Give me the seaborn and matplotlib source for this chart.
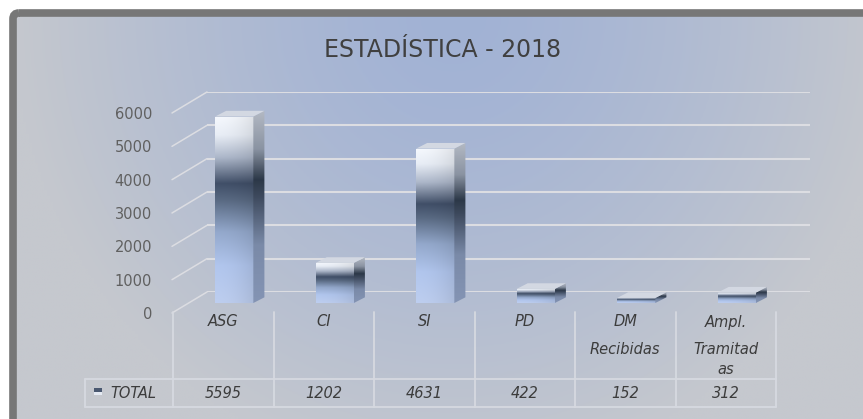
import numpy as np
import pandas as pd
import matplotlib
matplotlib.use('Agg')
import matplotlib.pyplot as plt
import seaborn as sns
from matplotlib.patches import Polygon, FancyBboxPatch, Rectangle
from matplotlib.colors import LinearSegmentedColormap, to_rgb

# --- data ---
categories = ['ASG', 'CI', 'SI', 'PD', 'DM\nRecibidas', 'Ampl.\nTramitad\nas']
totals = [5595, 1202, 4631, 422, 152, 312]
y_ticks = [0, 1000, 2000, 3000, 4000, 5000, 6000]
series_name = 'TOTAL'
title = 'ESTADÍSTICA - 2018'

W, H = 863, 419
sns.set_theme(style='white')
plt.rcParams['font.family'] = ['DejaVu Sans']

fig = plt.figure(figsize=(W / 100, H / 100), dpi=100, facecolor='white')


def px_axes(x0, y_top, x1, y_bottom):
    ax = fig.add_axes([x0 / W, 1 - y_bottom / H, (x1 - x0) / W, (y_bottom - y_top) / H])
    ax.set_facecolor('none')
    return ax


# background panel with gradient + grey frame
ax_bg = fig.add_axes([0, 0, 1, 1])
gx, gy = np.meshgrid(np.linspace(0, 1, 300), np.linspace(0, 1, 150))
d = np.sqrt(((gx - 0.5) / 0.5) ** 2 + (gy * 0.95) ** 2)
t = np.clip(d, 0, 1) ** 1.4
blue = np.array(to_rgb('#a1b2d5'))
gray = np.array(to_rgb('#c5c8ce'))
bg = blue * (1 - t[..., None]) + gray * t[..., None]
frame = FancyBboxPatch((13, 13), 880, 440, boxstyle='round,pad=0,rounding_size=6',
                       fc='none', ec='#777777', lw=5.5, zorder=3)
ax_bg.add_patch(frame)
im = ax_bg.imshow(bg, extent=[13, 893, 453, 13], aspect='auto', zorder=1)
im.set_clip_path(frame)
ax_bg.set_xlim(0, W)
ax_bg.set_ylim(H, 0)
ax_bg.axis('off')

grid_col = '#dcdde2'

# back wall gridlines
ax_back = px_axes(207, 92, 810, 292)
col_w = 603 / 6
for v in y_ticks:
    ax_back.plot([-0.5, 5.5], [v, v], color=grid_col, lw=1.5, solid_capstyle='butt')
    ax_back.plot([-0.5 - 35 / col_w, -0.5], [v - 630, v], color=grid_col, lw=1.1, clip_on=False)
ax_back.set_xlim(-0.5, 5.5)
ax_back.set_ylim(0, 6000)
ax_back.axis('off')

# front axis carrying the value labels
ax_front = px_axes(173, 113, 776, 313)
ax_front.set_xlim(-0.5, 5.5)
ax_front.set_ylim(0, 6000)
ax_front.set_yticks(y_ticks)
ax_front.set_yticklabels([str(v) for v in y_ticks])
ax_front.set_xticks([])
ax_front.tick_params(axis='y', length=0, pad=15, labelsize=10.5, labelcolor='#606060')
sns.despine(ax=ax_front, left=True, bottom=True)

# bars
ax_bar = px_axes(184, 103, 787, 303)
df = pd.DataFrame({'categoria': categories, 'total': totals})
sns.barplot(data=df, x='categoria', y='total', ax=ax_bar, width=0.38,
            color='#8090b0', saturation=1)

front_cmap = LinearSegmentedColormap.from_list('front', [
    (0.0, '#b6c6e6'), (0.2, '#aabee4'), (0.38, '#8ea2c4'), (0.55, '#56667e'),
    (0.64, '#3e4c64'), (0.78, '#a6b0c2'), (0.9, '#dfe4ec'), (1.0, '#eceff4')])
side_cmap = LinearSegmentedColormap.from_list('side', [
    (0.0, '#8494b4'), (0.3, '#7a8aa8'), (0.55, '#3e4a5e'),
    (0.64, '#2c3848'), (0.8, '#8a93a2'), (1.0, '#b4bac4')])

dx = 0.11
dy = 170
grad = np.linspace(0, 1, 256)[:, None]
profile = 1.04 - 0.1 * np.linspace(0, 1, 64) ** 2
for patch in list(ax_bar.patches):
    x0, w, h = patch.get_x(), patch.get_width(), patch.get_height()
    x1 = x0 + w
    patch.set_facecolor('none')
    patch.set_edgecolor('none')
    rgb = np.clip(front_cmap(np.repeat(grad, 64, axis=1))[..., :3] * profile[None, :, None], 0, 1)
    img = ax_bar.imshow(rgb, extent=[x0, x1, 0, h], origin='lower', aspect='auto', zorder=3)
    img.set_clip_path(patch)

    side = Polygon([(x1, 0), (x1 + dx, dy), (x1 + dx, h + dy), (x1, h)], closed=True,
                   fc='none', ec='none')
    ax_bar.add_patch(side)
    simg = ax_bar.imshow(side_cmap(grad)[..., :3], extent=[x1, x1 + dx, 0, h + dy],
                         origin='lower', aspect='auto', zorder=3)
    simg.set_clip_path(side)

    top = Polygon([(x0, h), (x0 + dx, h + dy), (x1 + dx, h + dy), (x1, h)], closed=True,
                  fc='#d3d8e2', ec='none', zorder=4)
    ax_bar.add_patch(top)

ax_bar.set_xlim(-0.5, 5.5)
ax_bar.set_ylim(0, 6000)
ax_bar.axis('off')

# data table under the chart
ax_tab = px_axes(85, 312, 776, 407)
xmin = -0.5 - 88 / col_w
ax_tab.set_xlim(xmin, 5.5)
ax_tab.set_ylim(0, 95)
ax_tab.axis('off')
tab_col = '#d6d9e0'
for i in range(7):
    ax_tab.plot([-0.5 + i, -0.5 + i], [0, 95], color=tab_col, lw=1.3, clip_on=False)
ax_tab.plot([xmin, xmin], [0, 28], color=tab_col, lw=1.3, clip_on=False)
for yy in [0, 28]:
    ax_tab.plot([xmin, 5.5], [yy, yy], color=tab_col, lw=1.3, clip_on=False)

txt = dict(fontsize=10.5, style='italic', color='#3c3c3c', ha='center', va='center')
line_off = [0, 28, 47]
for i, cat in enumerate(categories):
    for j, line in enumerate(cat.split('\n')):
        ax_tab.text(i, 85 - line_off[j], line, **txt)
for i, v in enumerate(totals):
    ax_tab.text(i, 14, str(v), **txt)

kx = xmin + 9 / col_w
kw = 8 / col_w
ax_tab.add_patch(Rectangle((kx, 15.5), kw, 3.5, fc='#4a5870', ec='none', clip_on=False))
ax_tab.add_patch(Rectangle((kx, 12), kw, 3.5, fc='#e4e9f2', ec='none', clip_on=False))
ax_tab.text(xmin + 25 / col_w, 14, series_name, fontsize=10.5, style='italic',
            color='#3c3c3c', ha='left', va='center')

fig.text(443 / W, 1 - 50 / H, title, ha='center', va='center', fontsize=17, color='#404040')

fig.savefig('out.png', dpi=100, facecolor='white')
